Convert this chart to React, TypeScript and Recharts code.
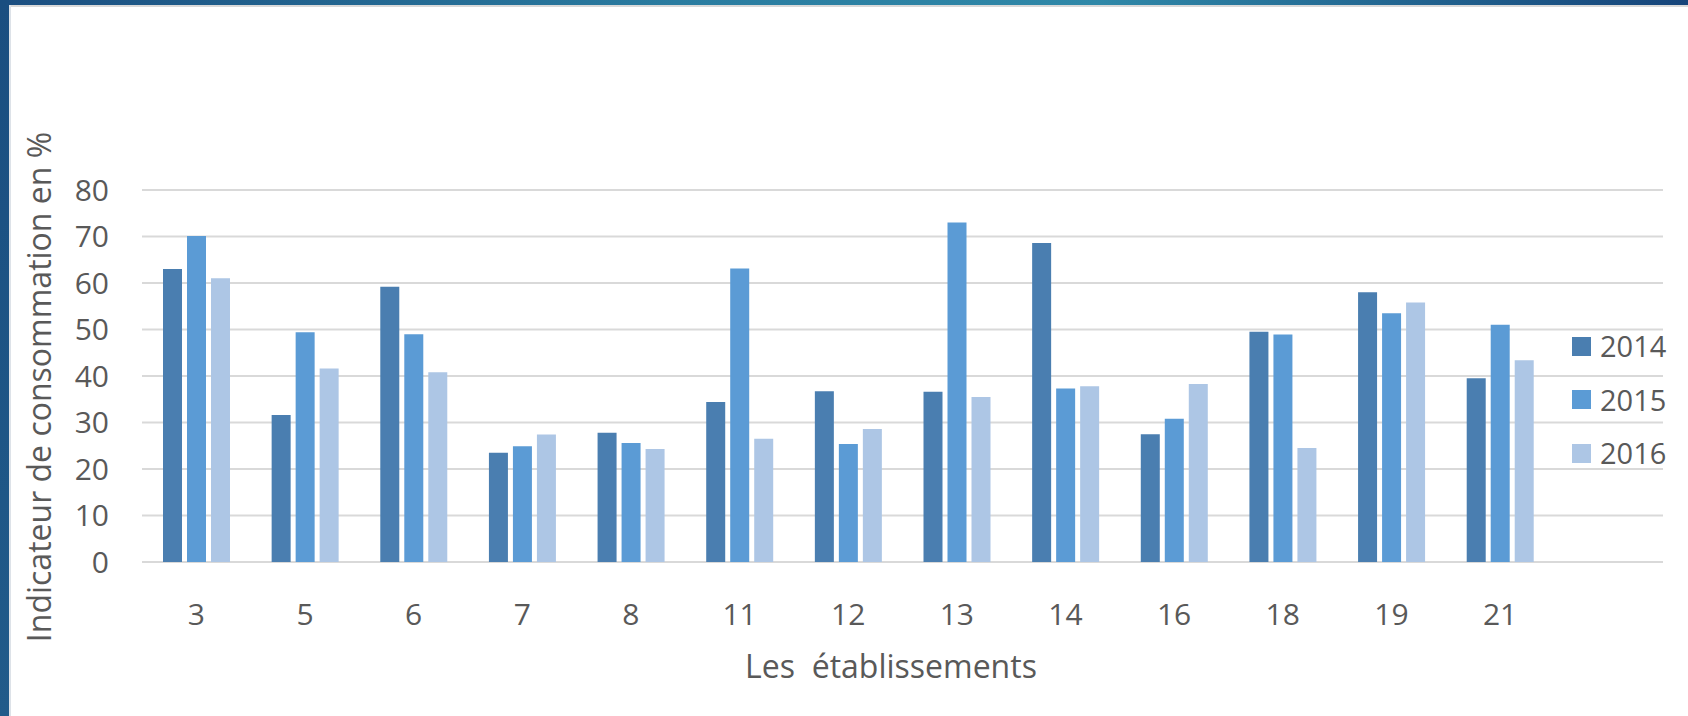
import React from 'react';

import { BarChart, Bar, XAxis, YAxis, CartesianGrid, Label } from 'recharts';

// établissement numbers (the last slot is left empty on purpose)
const etablissements = ['3', '5', '6', '7', '8', '11', '12', '13', '14', '16', '18', '19', '21', ''];

const conso2014 = [63.0, 31.6, 59.2, 23.5, 27.8, 34.4, 36.7, 36.6, 68.6, 27.5, 49.5, 58.0, 39.5, null];
const conso2015 = [70.1, 49.4, 49.0, 24.9, 25.6, 63.1, 25.4, 73.0, 37.3, 30.8, 48.9, 53.5, 51.0, null];
const conso2016 = [61.0, 41.6, 40.8, 27.4, 24.3, 26.5, 28.6, 35.5, 37.8, 38.3, 24.5, 55.8, 43.4, null];

const years = ['2014', '2015', '2016'];
const yTicks = [0, 10, 20, 30, 40, 50, 60, 70, 80];

const colors = ['#4a7eb0', '#5b9bd5', '#adc6e5'];
const textColor = '#595959';
const fontFamily = '"Open Sans", Lato, sans-serif';

const data = etablissements.map((name, i) => ({
  name,
  '2014': conso2014[i],
  '2015': conso2015[i],
  '2016': conso2016[i],
}));

const YTitle = () => (
  <text
    x={51}
    y={387}
    transform="rotate(-90, 51, 387)"
    textAnchor="middle"
    fill={textColor}
    fontSize={32}
    fontFamily={fontFamily}
  >
    Indicateur de consommation en %
  </text>
);

const XTitle = () => (
  <text x={891} y={678} textAnchor="middle" fill={textColor} fontSize={32} fontFamily={fontFamily} style={{ whiteSpace: 'pre' }}>
    Les  établissements
  </text>
);

export default function App() {
  return (
    <div style={{ position: 'absolute', left: 0, top: 0, width: 1688, height: 716, background: '#ffffff', overflow: 'hidden' }}>
      {/* frame: gradient band on top, dark strip on the left */}
      <div
        style={{
          position: 'absolute', left: 0, top: 0, width: 1688, height: 5,
          background: 'linear-gradient(to right, #1b4e80 0%, #2a7ca0 40%, #2f88a8 65%, #16447a 100%)',
        }}
      />
      <div style={{ position: 'absolute', left: 9, top: 5, width: 1679, height: 2, background: '#d9d9d9' }} />
      <div style={{ position: 'absolute', left: 0, top: 0, width: 9, height: 716, background: 'linear-gradient(to bottom, #1a4e80, #215b8a)' }} />
      <div style={{ position: 'absolute', left: 9, top: 5, width: 2, height: 711, background: '#dde2e8' }} />

      <div style={{ position: 'absolute', left: 0, top: 0 }}>
        <BarChart
          width={1688}
          height={716}
          data={data}
          margin={{ top: 190, right: 25, bottom: 94, left: 0 }}
          barSize={19}
          barGap={5}
        >
          <CartesianGrid vertical={false} stroke="#d9d9d9" strokeWidth={2} />
          <XAxis
            dataKey="name"
            height={60}
            axisLine={false}
            tickLine={false}
            tickMargin={36}
            interval={0}
            tick={{ fill: textColor, fontSize: 30, fontFamily }}
          >
            <Label content={<XTitle />} />
          </XAxis>
          <YAxis
            width={142}
            domain={[0, 80]}
            ticks={yTicks}
            axisLine={false}
            tickLine={false}
            tickMargin={27}
            tick={{ fill: textColor, fontSize: 30, fontFamily }}
          >
            <Label content={<YTitle />} />
          </YAxis>
          {years.map((y, i) => (
            <Bar key={y} dataKey={y} fill={colors[i]} isAnimationActive={false} />
          ))}
        </BarChart>
      </div>

      {/* legend */}
      <div style={{ position: 'absolute', left: 1572, top: 327 }}>
        {years.map((y, i) => (
          <div key={y} style={{ display: 'flex', alignItems: 'center', height: 38, marginBottom: i < years.length - 1 ? 15.5 : 0 }}>
            <div style={{ width: 19, height: 19, background: colors[i] }} />
            <span style={{ marginLeft: 9, color: textColor, fontSize: 29, fontFamily, lineHeight: '38px' }}>{y}</span>
          </div>
        ))}
      </div>
    </div>
  );
}
